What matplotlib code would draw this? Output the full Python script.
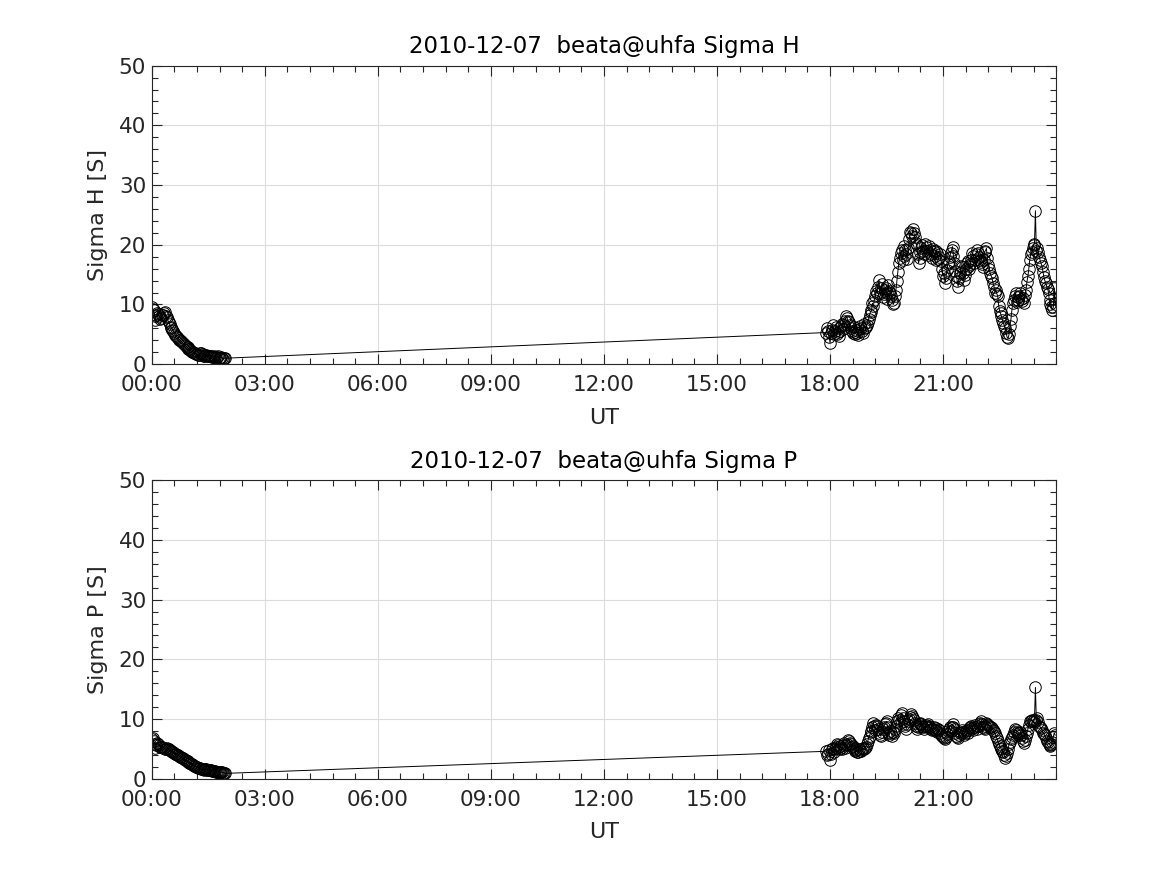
import numpy as np
import matplotlib
matplotlib.use("Agg")
import matplotlib.pyplot as plt
from matplotlib.ticker import MultipleLocator, FixedLocator

# ---------------- data ----------------
# sample times in hours (UT)
t_morning = np.round(np.arange(0.0, 1.951, 0.05), 3)
t_morning_b = np.round(t_morning[:-1] + 0.025, 3)
t_evening = np.round(np.arange(17.90, 23.951, 0.05), 3)
t_evening_b = np.round(t_evening + 0.025, 3)

sigma_h_morning = [9.5, 9.0, 7.4, 8.6, 8.0, 7.8, 8.2, 8.7, 7.9, 7.0,
                   6.3, 5.8, 5.2, 4.7, 4.3, 4.0, 3.7, 3.3, 3.1, 2.8,
                   2.5, 2.2, 2.0, 1.8, 1.7, 1.6, 1.9, 1.5, 1.4, 1.5,
                   1.3, 1.4, 1.2, 1.3, 1.1, 1.3, 1.0, 1.2, 0.9, 1.0]
sigma_h_morning_b = [9.2, 8.0, 8.2, 8.4, 7.6, 8.3, 8.5, 8.1, 7.4, 6.7,
                     6.0, 5.5, 4.9, 4.5, 4.1, 3.8, 3.5, 3.2, 2.9, 2.6,
                     2.3, 2.1, 1.9, 1.7, 1.6, 1.8, 1.7, 1.4, 1.5, 1.4,
                     1.3, 1.3, 1.2, 1.2, 1.2, 1.1, 1.1, 1.0, 1.0]

sigma_h_evening = [5.3, 5.5, 3.6, 5.8, 5.0, 6.2, 5.4, 4.8, 6.4, 5.9,
                   7.2, 7.8, 7.0, 6.1, 5.3, 5.0, 5.8, 4.9, 6.4, 5.6,
                   6.7, 6.3, 7.0, 8.3, 9.0, 9.7, 11.4, 11.9, 14.1, 12.8,
                   11.2, 12.4, 11.9, 13.3, 12.0, 10.8, 10.3, 12.5, 15.5, 17.7,
                   19.1, 18.2, 19.1, 17.6, 21.0, 21.9, 22.7, 21.3, 19.9, 16.9,
                   18.8, 19.9, 18.5, 19.7, 18.3, 19.2, 17.8, 18.9, 17.5, 18.6,
                   18.0, 17.2, 14.7, 13.6, 15.8, 17.1, 18.6, 19.7, 16.9, 14.8,
                   13.0, 15.3, 16.3, 14.1, 16.0, 17.3, 15.9, 17.5, 18.2, 17.4,
                   19.1, 18.0, 17.1, 16.2, 18.8, 19.4, 16.6, 15.2, 14.4, 13.0,
                   12.5, 11.4, 8.9, 8.0, 6.9, 6.1, 4.5, 5.0, 7.5, 10.3,
                   11.4, 10.4, 10.8, 11.9, 10.6, 10.3, 12.5, 14.7, 17.5, 18.8,
                   19.9, 25.7, 19.5, 18.0, 16.9, 15.5, 14.0, 13.0, 12.0, 10.8,
                   9.1, 12.7]
sigma_h_evening_b = [6.0, 4.5, 5.2, 6.5, 5.6, 5.0, 6.0, 5.5, 6.8, 6.6,
                     8.0, 7.3, 6.5, 5.5, 6.2, 5.4, 5.2, 5.9, 6.0, 5.2,
                     6.0, 6.6, 7.6, 8.8, 10.2, 10.8, 12.3, 13.0, 12.0, 13.4,
                     11.8, 12.8, 10.9, 12.2, 11.4, 10.0, 11.5, 14.0, 17.0, 18.6,
                     17.5, 19.8, 18.5, 19.4, 22.1, 21.5, 22.0, 20.3, 18.4, 17.8,
                     19.4, 18.9, 20.2, 18.9, 19.8, 18.4, 19.3, 18.2, 19.0, 17.6,
                     18.4, 16.0, 15.2, 14.4, 16.8, 18.0, 19.2, 18.1, 15.6, 14.0,
                     14.4, 16.5, 15.2, 15.0, 17.0, 16.4, 16.8, 18.6, 16.9, 18.4,
                     18.6, 17.5, 16.8, 17.5, 19.0, 17.8, 16.0, 14.8, 13.6, 12.0,
                     11.8, 9.8, 8.5, 7.4, 6.4, 5.2, 4.3, 6.4, 9.0, 10.8,
                     12.0, 11.2, 11.5, 10.9, 11.1, 11.6, 13.8, 16.0, 18.4, 19.5,
                     20.2, 19.0, 18.8, 17.4, 16.4, 14.6, 13.6, 12.6, 10.0, 9.6,
                     9.5, 10.0]

sigma_p_morning = [6.6, 6.3, 5.2, 6.0, 5.6, 5.4, 5.2, 5.0, 5.1, 4.9,
                   4.7, 4.5, 4.3, 4.1, 3.9, 3.7, 3.5, 3.3, 3.1, 2.9,
                   2.7, 2.5, 2.3, 2.1, 1.9, 1.8, 1.7, 1.6, 1.5, 1.6,
                   1.4, 1.5, 1.3, 1.3, 1.2, 1.2, 1.1, 1.1, 1.0, 0.9]
sigma_p_morning_b = [6.8, 5.8, 5.7, 5.8, 5.3, 5.3, 5.1, 5.0, 5.0, 4.8,
                     4.6, 4.4, 4.2, 4.0, 3.8, 3.6, 3.4, 3.2, 3.0, 2.8,
                     2.6, 2.4, 2.2, 2.0, 1.85, 1.75, 1.65, 1.55, 1.55, 1.5,
                     1.45, 1.4, 1.3, 1.25, 1.2, 1.15, 1.1, 1.05, 0.95]

sigma_p_evening = [4.6, 4.2, 3.2, 4.9, 4.4, 5.3, 5.7, 4.9, 5.2, 5.6,
                   5.1, 5.9, 6.3, 5.8, 5.5, 5.2, 4.8, 4.4, 4.7, 5.0,
                   4.9, 5.4, 6.3, 7.2, 8.0, 9.4, 8.2, 8.8, 7.6, 7.1,
                   8.4, 9.1, 9.6, 7.7, 8.0, 7.1, 7.6, 8.9, 10.2, 9.3,
                   11.0, 9.7, 8.8, 9.2, 10.0, 10.8, 10.2, 9.3, 8.3, 8.9,
                   9.4, 8.8, 8.4, 9.0, 9.1, 8.6, 8.2, 8.7, 8.5, 7.9,
                   8.1, 7.4, 7.0, 6.6, 7.5, 8.4, 8.0, 9.1, 8.3, 7.2,
                   6.9, 7.6, 8.2, 7.4, 8.0, 7.7, 8.5, 8.8, 8.2, 9.0,
                   8.4, 9.2, 9.6, 8.7, 8.3, 9.4, 9.0, 8.6, 8.5, 8.0,
                   7.2, 6.4, 5.5, 4.9, 4.4, 3.5, 4.3, 5.8, 6.6, 7.4,
                   8.3, 7.9, 7.4, 7.8, 6.8, 6.0, 7.1, 8.3, 9.6, 9.8,
                   9.5, 15.3, 10.2, 8.9, 8.5, 7.7, 7.3, 6.3, 5.9, 5.5,
                   6.2, 7.7]
sigma_p_evening_b = [4.0, 4.8, 4.1, 5.2, 4.9, 5.9, 5.3, 5.5, 4.9, 6.0,
                     5.6, 6.5, 6.0, 5.3, 5.0, 4.6, 4.5, 5.0, 4.6, 5.2,
                     5.1, 5.8, 6.8, 7.8, 8.6, 8.8, 9.0, 8.3, 7.4, 7.8,
                     8.6, 9.3, 8.6, 7.4, 7.6, 7.9, 8.3, 9.6, 9.8, 10.6,
                     10.2, 9.2, 8.4, 9.6, 10.4, 10.5, 9.8, 8.8, 8.6, 9.2,
                     9.1, 8.6, 8.8, 8.7, 8.9, 8.4, 8.4, 8.2, 8.1, 8.3,
                     7.7, 7.2, 6.8, 7.0, 8.0, 8.7, 8.6, 8.7, 7.7, 7.0,
                     7.3, 7.9, 7.8, 7.7, 8.2, 8.1, 8.6, 8.5, 8.6, 8.7,
                     8.8, 9.4, 9.1, 8.5, 8.9, 9.2, 8.8, 8.6, 8.2, 7.6,
                     6.8, 5.9, 5.2, 4.6, 3.9, 3.8, 5.0, 6.2, 7.0, 7.9,
                     8.1, 7.6, 7.6, 7.3, 6.4, 6.5, 7.7, 9.0, 9.7, 9.6,
                     9.9, 9.8, 9.5, 8.7, 8.1, 7.5, 6.8, 6.1, 5.7, 5.8,
                     7.0, 7.3]

x_tick_hours = [0, 3, 6, 9, 12, 15, 18, 21]
x_tick_labels = ["00:00", "03:00", "06:00", "09:00", "12:00", "15:00", "18:00", "21:00"]
titles = ["2010-12-07  beata@uhfa Sigma H", "2010-12-07  beata@uhfa Sigma P"]
ylabels = ["Sigma H [S]", "Sigma P [S]"]


def merged(times_list, values_list):
    t = np.concatenate(times_list)
    v = np.concatenate([np.asarray(x, dtype=float) for x in values_list])
    order = np.argsort(t, kind="stable")
    return t[order], v[order]


t_h, v_h = merged([t_morning, t_morning_b, t_evening, t_evening_b],
                  [sigma_h_morning, sigma_h_morning_b, sigma_h_evening, sigma_h_evening_b])
t_p, v_p = merged([t_morning, t_morning_b, t_evening, t_evening_b],
                  [sigma_p_morning, sigma_p_morning_b, sigma_p_evening, sigma_p_evening_b])

# ---------------- plotting ----------------
plt.rcParams['font.family'] = ['DejaVu Sans']
fig = plt.figure(figsize=(11.67, 8.75), dpi=100)
positions = [[0.13, 0.5838, 0.775, 0.3412], [0.13, 0.11, 0.775, 0.3412]]
series = [(t_h, v_h), (t_p, v_p)]

axcol = '#262626'
for pos, (tt, y), title, ylab in zip(positions, series, titles, ylabels):
    ax = fig.add_axes(pos)
    ax.plot(tt, y, '-', color='black', linewidth=0.7,
            marker='o', markersize=8.3, markerfacecolor='none',
            markeredgecolor='black', markeredgewidth=0.7)
    ax.set_xlim(0, 24)
    ax.set_ylim(0, 50)
    ax.xaxis.set_major_locator(FixedLocator(x_tick_hours))
    ax.set_xticklabels(x_tick_labels)
    ax.xaxis.set_minor_locator(MultipleLocator(0.6))
    ax.yaxis.set_major_locator(MultipleLocator(10))
    ax.yaxis.set_minor_locator(MultipleLocator(2))
    ax.tick_params(which='both', direction='in', top=True, right=True,
                   colors=axcol, labelsize=15.5, width=0.8)
    ax.tick_params(which='major', length=7)
    ax.tick_params(which='minor', length=4)
    ax.tick_params(axis='x', which='major', pad=8)
    ax.tick_params(axis='y', which='major', pad=4)
    for s in ax.spines.values():
        s.set_color(axcol)
        s.set_linewidth(0.8)
    ax.grid(True, which='major', color='#dcdcdc', linewidth=0.8)
    ax.set_axisbelow(True)
    ax.set_title(title, fontsize=16.5, color='black', pad=9)
    ax.set_xlabel("UT", fontsize=16, color=axcol, labelpad=9)
    ax.set_ylabel(ylab, fontsize=16, color=axcol, labelpad=8)

fig.savefig("out.png", dpi=100)
